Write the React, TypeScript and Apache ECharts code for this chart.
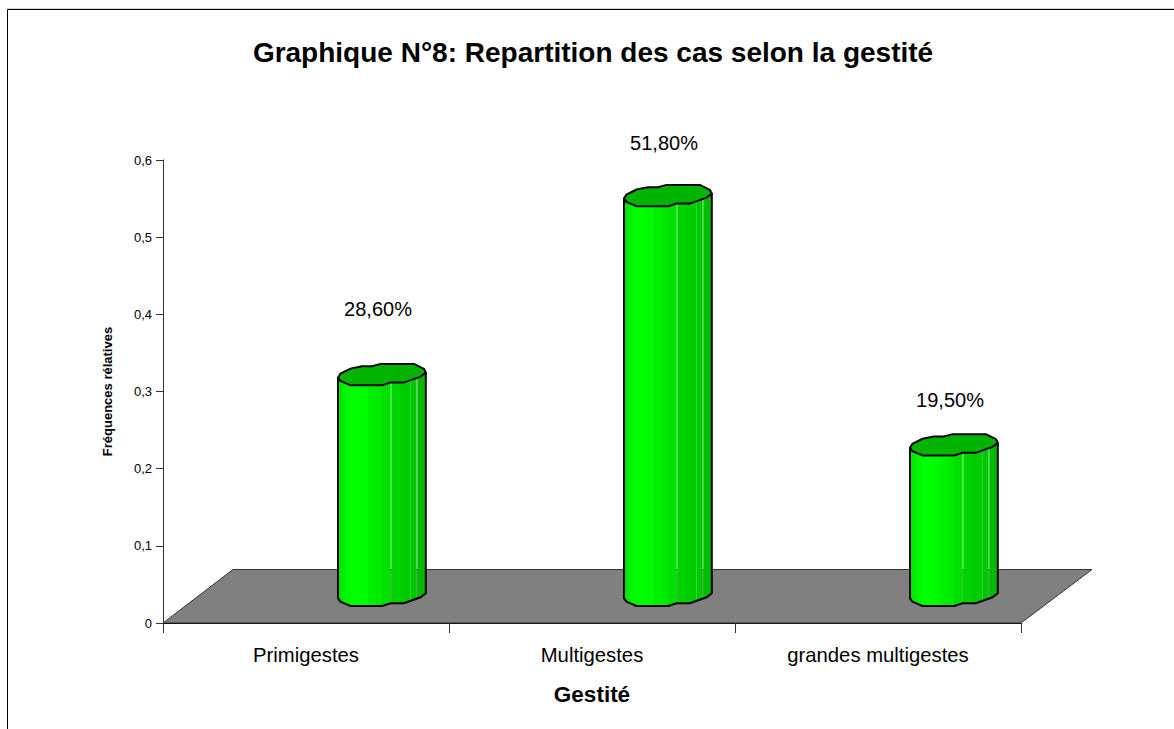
import React, { useEffect, useRef } from "react";
import * as echarts from "echarts";

const categories = ["Primigestes", "Multigestes", "grandes multigestes"];
const values = [0.286, 0.518, 0.195];
const valueLabels = ["28,60%", "51,80%", "19,50%"];
const labelLift = [93, 80.5, 72.6];

const FONT = '"Liberation Sans", Arial, sans-serif';
const OUT = "#000000";

// Shape template of the faceted column, in px relative to its left edge / front baseline.
const FRONT: number[][] = [[0, -7.7], [2.5, -4.3], [12.5, 0], [44.2, 0], [52.5, -2.7], [65.8, -2.7], [82.5, -8.7], [87.8, -12.7]];
const BACK: number[][] = [[87.8, -12.7], [86, -16.4], [76, -21.4], [42.5, -21.4], [34, -19], [24, -19], [12.5, -16.7], [2.5, -11.7], [0, -7.7]];
const FACETS: [number, number, string][] = [
  [0, 3, "#00e400"], [3, 7, "#00ee00"], [7, 12, "#00f800"], [12, 22, "#00ff00"], [22, 30, "#00fa00"],
  [30, 38, "#00f000"], [38, 44, "#00ea00"], [44, 52.5, "#00e000"],
  [52.5, 53.5, "#22dc22"], [53.5, 62, "#00d400"], [62, 72, "#00cc00"], [72, 73, "#2ad42a"], [73, 78.5, "#00c800"],
  [78.5, 79.5, "#2ccc2c"], [79.5, 87.8, "#00bc00"],
];

function frontY(x: number) {
  for (let i = 1; i < FRONT.length; i++) {
    if (x <= FRONT[i][0]) {
      const [x0, y0] = FRONT[i - 1];
      const [x1, y1] = FRONT[i];
      return y0 + ((y1 - y0) * (x - x0)) / (x1 - x0);
    }
  }
  return FRONT[FRONT.length - 1][1];
}

const renderColumn = (params: any, api: any) => {
  const i = api.value(0);
  const v = api.value(1);
  const pTop = api.coord([i, v]);
  const pBase = api.coord([i, 0]);
  const L = pBase[0] + 32;
  const yB = pBase[1] - 17;
  const yT = pTop[1] - 17;
  const children: any[] = FACETS.map(([a, b, c]) => ({
    type: "polygon",
    shape: {
      points: [
        [L + a, yT + frontY(a) - 0.5],
        [L + b, yT + frontY(b) - 0.5],
        [L + b, yB + frontY(b)],
        [L + a, yB + frontY(a)],
      ],
    },
    style: { fill: c, stroke: null },
  }));
  children.push({
    type: "polyline",
    shape: {
      points: [
        [L, yT + FRONT[0][1]],
        [L, yB + FRONT[0][1]],
        ...FRONT.map(([x, y]) => [L + x, yB + y]),
        [L + 87.8, yT - 12.7],
      ],
    },
    style: { fill: "none", stroke: OUT, lineWidth: 2 },
  });
  children.push({
    type: "polygon",
    shape: {
      points: [...FRONT, ...BACK.slice(1, -1)].map(([x, y]) => [L + x, yT + y]),
    },
    style: { fill: "#00b400", stroke: OUT, lineWidth: 2 },
  });
  children.push({
    type: "text",
    style: {
      text: valueLabels[i],
      x: L + 40,
      y: pTop[1] - labelLift[i],
      font: `20px ${FONT}`,
      fill: "#000",
      align: "center",
      verticalAlign: "middle",
    },
  });
  return { type: "group", children };
};

const renderFloor = (params: any) => {
  const { x, y, width, height } = params.coordSys;
  const b = y + height;
  return {
    type: "polygon",
    shape: {
      points: [[x, b], [x + width, b], [x + width + 71, b - 53.5], [x + 70, b - 53.5]],
    },
    style: { fill: "#808080", stroke: "#333333", lineWidth: 1 },
  };
};

export default function App() {
  const ref = useRef<HTMLDivElement>(null);
  useEffect(() => {
    const chart = echarts.init(ref.current!, undefined, { renderer: "svg" });
    chart.setOption({
      animation: false,
      backgroundColor: "#fff",
      title: {
        text: "Graphique N°8: Repartition des cas selon la gestité",
        left: 588,
        top: 33,
        textAlign: "center",
        textStyle: { fontFamily: FONT, fontSize: 28, fontWeight: "bold", color: "#000" },
      },
      grid: { left: 163, right: 153, top: 160, bottom: 106 },
      xAxis: {
        type: "category",
        data: categories,
        name: "Gestité",
        nameLocation: "middle",
        nameGap: 60,
        nameTextStyle: { fontFamily: FONT, fontSize: 22.5, fontWeight: "bold", color: "#000" },
        axisLine: { lineStyle: { color: "#000", width: 1 } },
        axisTick: { show: true, length: 10, lineStyle: { color: "#333" }, alignWithLabel: false },
        axisLabel: { fontFamily: FONT, fontSize: 20.3, color: "#000", margin: 22 },
        splitLine: { show: false },
      },
      yAxis: {
        type: "value",
        min: 0,
        max: 0.6,
        interval: 0.1,
        name: "Fréquences rélatives",
        nameLocation: "middle",
        nameGap: 49,
        nameTextStyle: { fontFamily: FONT, fontSize: 13, fontWeight: "bold", color: "#000" },
        axisLine: { show: true, lineStyle: { color: "#333", width: 1 } },
        axisTick: { show: true, length: 7, lineStyle: { color: "#333" } },
        axisLabel: {
          fontFamily: FONT,
          fontSize: 13,
          color: "#000",
          margin: 11,
          formatter: (v: number) => String(Math.round(v * 10) / 10).replace(".", ","),
        },
        splitLine: { show: false },
      },
      graphic: [
        { type: "line", shape: { x1: 7, y1: 8.5, x2: 1174, y2: 8.5 }, style: { stroke: "#d8d8d8", lineWidth: 1 } },
        { type: "line", shape: { x1: 7.5, y1: 9.5, x2: 1174, y2: 9.5 }, style: { stroke: "#000", lineWidth: 1 } },
        { type: "line", shape: { x1: 7.5, y1: 9.5, x2: 7.5, y2: 729 }, style: { stroke: "#000", lineWidth: 1 } },
      ],
      series: [
        { type: "custom", renderItem: renderFloor, data: [[0, 0]], z: 1, silent: true },
        {
          type: "custom",
          renderItem: renderColumn,
          data: values.map((v, i) => [i, v]),
          encode: { x: 0, y: 1 },
          z: 3,
          silent: true,
        },
      ],
    });
    return () => chart.dispose();
  }, []);
  return (
    <div
      ref={ref}
      style={{ position: "absolute", left: 0, top: 0, width: 1174, height: 729, background: "#fff" }}
    />
  );
}
